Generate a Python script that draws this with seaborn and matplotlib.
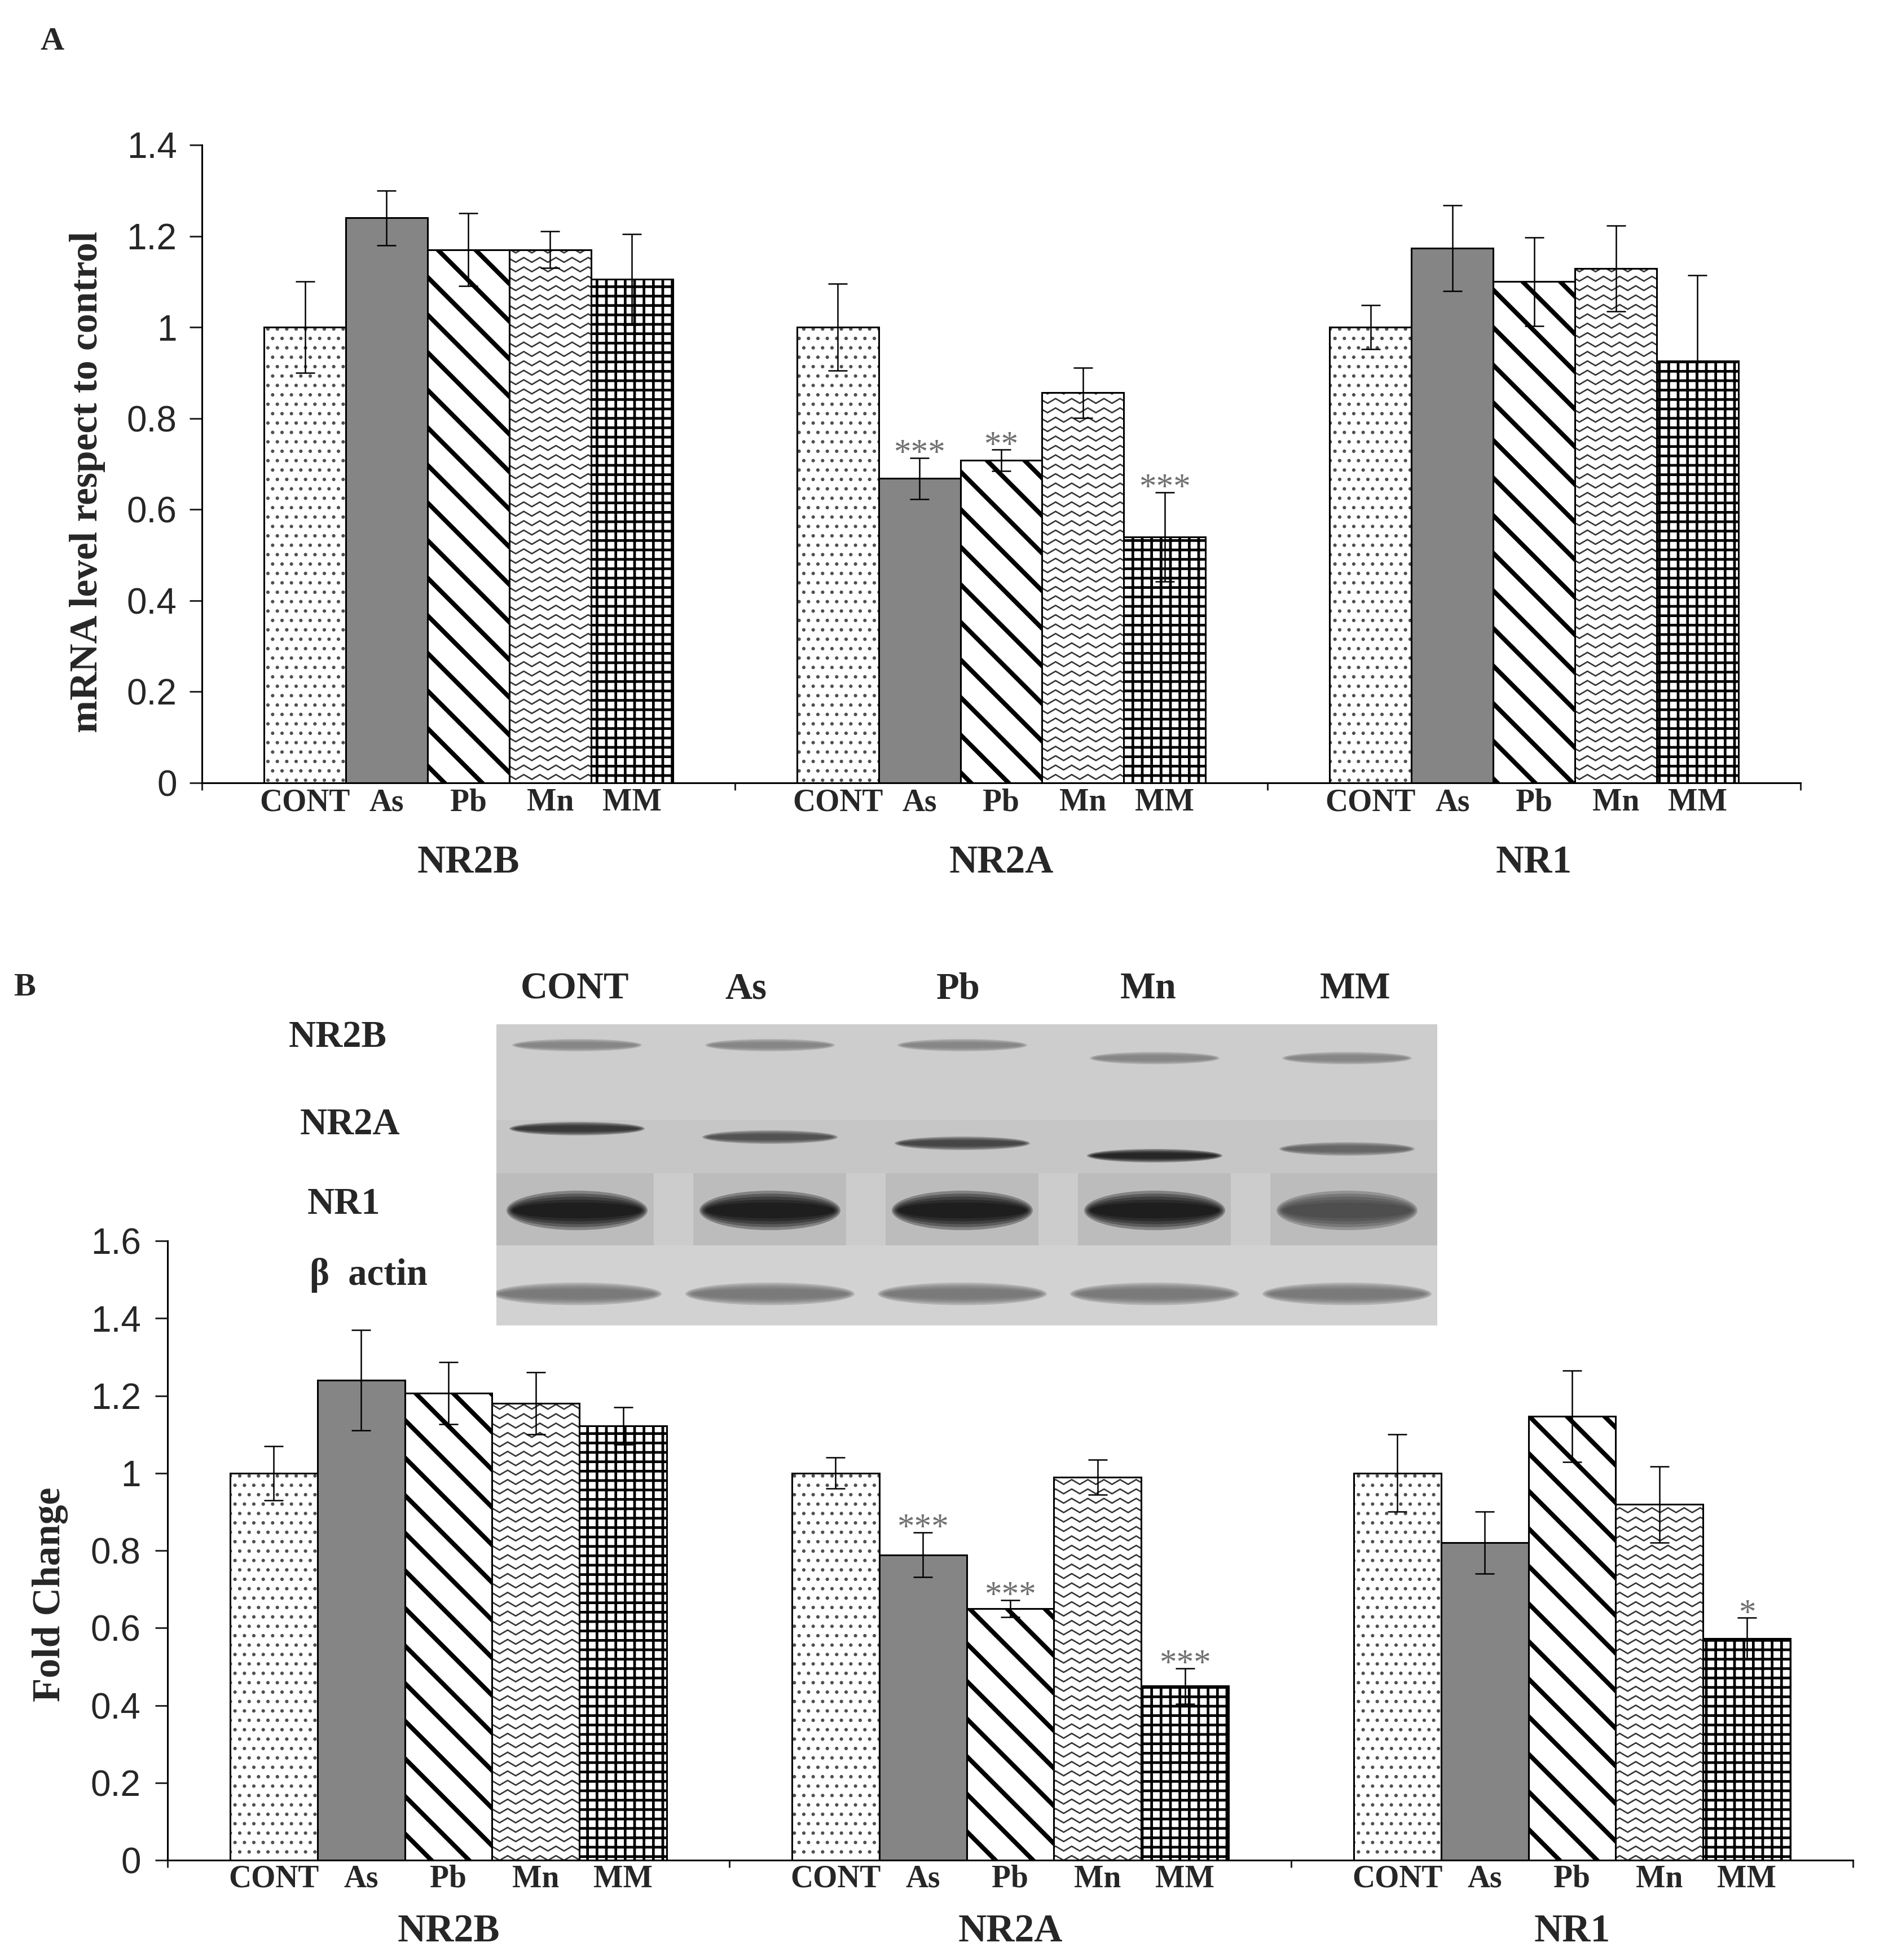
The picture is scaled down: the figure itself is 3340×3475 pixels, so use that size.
import warnings

import numpy as np
import pandas as pd
import seaborn as sns
import matplotlib
matplotlib.use("Agg")
import matplotlib.pyplot as plt
import matplotlib.hatch as mhatch
from matplotlib.path import Path
from matplotlib.patches import Ellipse, Rectangle
from matplotlib.colors import to_rgba

warnings.filterwarnings("ignore")

groups = ["NR2B", "NR2A", "NR1"]
treatments = ["CONT", "As", "Pb", "Mn", "MM"]

# A - mRNA level respect to control (mean, error)
mrna_nr2b = [1.00, 1.24, 1.17, 1.17, 1.105]
mrna_nr2b_err = [0.10, 0.06, 0.08, 0.04, 0.10]
mrna_nr2a = [1.00, 0.668, 0.708, 0.856, 0.540]
mrna_nr2a_err = [0.095, 0.045, 0.023, 0.055, 0.098]
mrna_nr1 = [1.00, 1.173, 1.100, 1.129, 0.926]
mrna_nr1_err = [0.048, 0.094, 0.097, 0.094, 0.188]
mrna_stars_nr2b = ["", "", "", "", ""]
mrna_stars_nr2a = ["", "***", "**", "", "***"]
mrna_stars_nr1 = ["", "", "", "", ""]

# B - protein fold change (mean, error)
prot_nr2b = [1.00, 1.24, 1.206, 1.180, 1.122]
prot_nr2b_err = [0.07, 0.13, 0.08, 0.08, 0.048]
prot_nr2a = [1.00, 0.789, 0.650, 0.989, 0.450]
prot_nr2a_err = [0.04, 0.058, 0.022, 0.045, 0.046]
prot_nr1 = [1.00, 0.820, 1.147, 0.919, 0.573]
prot_nr1_err = [0.10, 0.08, 0.118, 0.098, 0.053]
prot_stars_nr2b = ["", "", "", "", ""]
prot_stars_nr2a = ["", "***", "***", "", "***"]
prot_stars_nr1 = ["", "", "", "", "*"]

yticks_a = [0, 0.2, 0.4, 0.6, 0.8, 1.0, 1.2, 1.4]
yticks_b = [0, 0.2, 0.4, 0.6, 0.8, 1.0, 1.2, 1.4, 1.6]


# zigzag hatch ('z'), not available in matplotlib by default.
# each line goes forward and back on itself so the agg fill has no area
class ZigZagHatch(mhatch.HatchPatternBase):
    def __init__(self, hatch, density):
        self.num_rows = hatch.count("z") * density
        self.num_cols = 7 if self.num_rows else 0
        n = 2 * self.num_cols + 1
        self.num_vertices = self.num_rows * (2 * n - 1)

    def set_vertices_and_codes(self, vertices, codes):
        n = 2 * self.num_cols + 1
        xs = np.linspace(0, 1, n)
        amp = 0.5 / self.num_rows
        seg = 2 * n - 1
        for r in range(self.num_rows):
            y0 = r / self.num_rows + 0.1 / self.num_rows
            ys = y0 + amp * (np.arange(n) % 2)
            px = np.concatenate([xs, xs[-2::-1]])
            py = np.concatenate([ys, ys[-2::-1]])
            vertices[r * seg:(r + 1) * seg, 0] = px
            vertices[r * seg:(r + 1) * seg, 1] = py
            codes[r * seg] = Path.MOVETO
            codes[r * seg + 1:(r + 1) * seg] = Path.LINETO


mhatch._hatch_types.append(ZigZagHatch)

bar_face = ["white", "#858585", "white", "white", "white"]
bar_hatch = ["..", None, "\\", "zz", "++"]
hatch_col = ["#505050", "black", "black", "#3a3a3a", "black"]
hatch_lw = [1.0, 1.0, 2.9, 0.8, 1.7]

SERIF = ["Liberation Serif", "DejaVu Serif"]
SANS = ["Liberation Sans", "DejaVu Sans"]

sns.set_style("ticks")
plt.rcParams["font.family"] = SANS
plt.rcParams["hatch.linewidth"] = 1.4

W, H = 3341, 3475
fig = plt.figure(figsize=(W / 200, H / 200), dpi=200)


def fx(px):
    return px / W


def fy(py):
    return 1 - py / H


def draw_panel(ax, means, errs, stars, width, ylim, yticks, ylabel, lab_coords,
               tick_off, group_off, tick_pad):
    df = pd.DataFrame({
        "group": np.repeat(groups, len(treatments)),
        "treatment": treatments * len(groups),
        "value": np.concatenate(means),
    })
    sns.barplot(data=df, x="group", y="value", hue="treatment", order=groups,
                hue_order=treatments, palette=dict(zip(treatments, bar_face)),
                saturation=1, errorbar=None, width=width, legend=False, ax=ax,
                edgecolor="black", linewidth=1.1)

    bar_conts = list(ax.containers)
    for i, cont in enumerate(bar_conts):
        for bar in cont.patches:
            bar.set_edgecolor("black")
            bar.set_linewidth(1.1)
            bar.set_hatch(bar_hatch[i])
            bar._hatch_color = to_rgba(hatch_col[i])
            if hasattr(bar, "set_hatch_linewidth"):
                bar.set_hatch_linewidth(hatch_lw[i])
            cx = bar.get_x() + bar.get_width() / 2
            g = int(round(cx))
            m, e = means[g][i], errs[g][i]
            ax.errorbar(cx, m, yerr=e, fmt="none", ecolor="black",
                        elinewidth=0.9, capsize=6, capthick=0.9, zorder=3)
            if stars[g][i]:
                ax.annotate(stars[g][i], xy=(cx, m + e), xytext=(0, -3),
                            textcoords="offset points", ha="center",
                            va="baseline", fontsize=22, color="#707070",
                            family=SERIF)
            ax.annotate(treatments[i], xy=(cx, 0),
                        xycoords=("data", "axes fraction"),
                        xytext=(0, -tick_off), textcoords="offset points",
                        ha="center", va="center", fontsize=20,
                        fontweight="bold", family=SERIF)

    for g, name in enumerate(groups):
        ax.annotate(name, xy=(g, 0), xycoords=("data", "axes fraction"),
                    xytext=(0, -group_off), textcoords="offset points",
                    ha="center", va="center", fontsize=25, fontweight="bold",
                    family=SERIF)

    ax.set_xlim(-0.5, 2.5)
    ax.set_xticks([-0.5, 0.5, 1.5, 2.5])
    ax.set_xticklabels([])
    ax.set_xlabel("")
    ax.set_ylim(*ylim)
    ax.set_yticks(yticks)
    ax.set_yticklabels([f"{v:g}" for v in yticks], fontsize=23, family=SANS)
    ax.tick_params(axis="x", direction="out", length=4.7, width=1.1)
    ax.tick_params(axis="y", direction="out", length=8, width=1.1,
                   pad=tick_pad)
    sns.despine(ax=ax)
    for s in ("left", "bottom"):
        ax.spines[s].set_linewidth(1.1)
        ax.spines[s].set_color("black")
    ax.set_ylabel(ylabel, fontsize=25, fontweight="bold", family=SERIF)
    ax.yaxis.set_label_coords(*lab_coords)
    ax.yaxis.label.set_verticalalignment("center")


# ---- panel A
ax_a = fig.add_axes([fx(358), fy(1388), fx(3192) - fx(358), fy(257) - fy(1388)])
draw_panel(ax_a,
           [mrna_nr2b, mrna_nr2a, mrna_nr1],
           [mrna_nr2b_err, mrna_nr2a_err, mrna_nr1_err],
           [mrna_stars_nr2b, mrna_stars_nr2a, mrna_stars_nr1],
           0.767, (0, 1.4), yticks_a, "mRNA level respect to control",
           (-0.0716, 0.472), 12.6, 51, 8)

# ---- panel B
ax_b = fig.add_axes([fx(297), fy(3298), fx(3285) - fx(297), fy(2200) - fy(3298)])
draw_panel(ax_b,
           [prot_nr2b, prot_nr2a, prot_nr1],
           [prot_nr2b_err, prot_nr2a_err, prot_nr1_err],
           [prot_stars_nr2b, prot_stars_nr2a, prot_stars_nr1],
           0.778, (0, 1.6), yticks_b, "Fold Change",
           (-0.0696, 0.429), 12.2, 45.7, 9)

# ---- western blot picture (inset)
ax_w = fig.add_axes([fx(880), fy(2350), fx(2548) - fx(880), fy(1816) - fy(2350)])
ax_w.set_xlim(0, 1668)
ax_w.set_ylim(534, 0)
ax_w.axis("off")
for y0, y1, col in [(0, 170, "#cdcdcd"), (170, 264, "#c6c6c6"),
                    (264, 392, "#bcbcbc"), (392, 534, "#d2d2d2")]:
    ax_w.add_patch(Rectangle((0, y0), 1668, y1 - y0, color=col, lw=0))
for gx in [314, 655, 996, 1337]:
    ax_w.add_patch(Rectangle((gx - 35, 264), 70, 128, color="#cccccc", lw=0))
lanes = [143, 485, 826, 1167, 1508]


def band(x, y, w, h, col):
    for k in range(5):
        s = 1 - 0.15 * k
        ax_w.add_patch(Ellipse((x, y), w * (0.85 + 0.15 * s), h * s,
                               color=col, alpha=0.3, lw=0))


for j, x in enumerate(lanes):
    band(x, 37 if j < 3 else 60, 230, 22, "#7a7a7a")
for x, y, c in zip(lanes, [185, 200, 211, 233, 221],
                   ["#1e1e1e", "#3c3c3c", "#2e2e2e", "#080808", "#555555"]):
    band(x, y, 240, 24, c)
for x, c in zip(lanes, ["#000000"] * 4 + ["#3a3a3a"]):
    band(x, 330, 250, 70, c)
for x in lanes:
    band(x, 478, 300, 40, "#6a6a6a")

# ---- figure texts
fig.text(fx(92), fy(74), "A", fontsize=21, fontweight="bold", family=SERIF,
         ha="center", va="center")
fig.text(fx(44), fy(1751), "B", fontsize=21, fontweight="bold", family=SERIF,
         ha="center", va="center")
for t, x in zip(treatments, [1019, 1322, 1699, 2036, 2403]):
    fig.text(fx(x), fy(1754), t, fontsize=24, fontweight="bold",
             family=SERIF, ha="center", va="center")
for t, x, y in [("NR2B", 599, 1840), ("NR2A", 621, 1995), ("NR1", 610, 2135),
                ("β  actin", 654, 2261)]:
    fig.text(fx(x), fy(y), t, fontsize=24, fontweight="bold", family=SERIF,
             ha="center", va="center")

fig.savefig("out.png", dpi=200, facecolor="white")
